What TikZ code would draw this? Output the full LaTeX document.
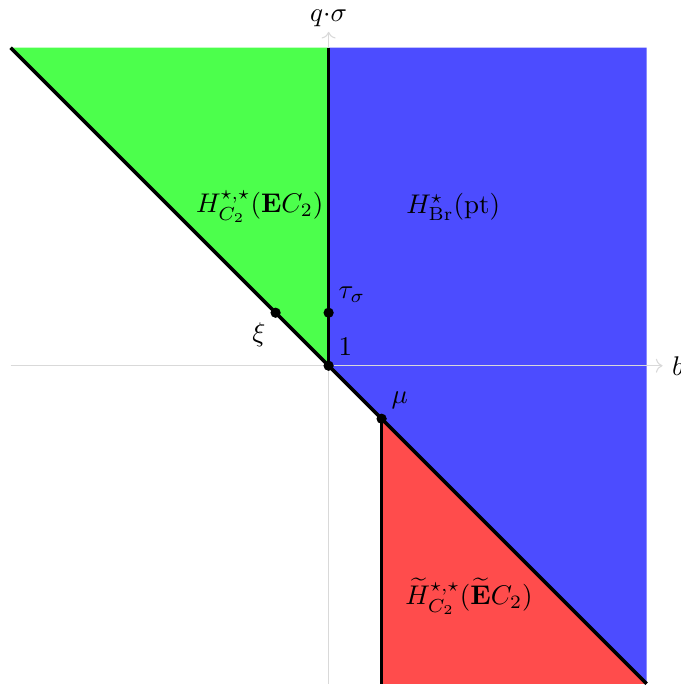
\documentclass[tikz,border=0pt]{standalone}
\usepackage{amsmath, amssymb}
\usetikzlibrary{arrows.meta, positioning}
\tikzset{
  axisline/.style={draw=gray!30, thin, ->},
  wall/.style={draw=black, line width=1.3pt},
  dot/.style={circle, fill=black, inner sep=0pt, minimum size=3.8pt}
}
\newcommand{\Etil}{\widetilde{\mathbf{E}}}

\begin{document}
\begin{tikzpicture}[thick, scale=0.69]
  \useasboundingbox (-6.2,-6.08) rectangle (6.64,6.9);
  % corners
  \coordinate (o) at (0,0);
  \coordinate (tl) at (-6,6);
  \coordinate (tm) at (0,6);
  \coordinate (tr) at (6,6);
  \coordinate (br) at (6,-6);
  \coordinate (bm) at (1,-6);
  \coordinate (m) at (1,-1);
  % regions
  \fill[green!70] (tl) -- (tm) -- (o) -- cycle;
  \fill[blue!70] (tm) -- (tr) -- (br) -- (m) -- (o) -- cycle;
  \fill[red!70] (m) -- (bm) -- (br) -- cycle;
  % axes
  \coordinate (xl) at (-6,0);
  \coordinate (xr) at (6.3,0);
  \coordinate (yb) at (0,-6);
  \coordinate (yt) at (0,6.3);
  \draw[axisline] (xl) -- (xr) node[right, black]{$b$};
  \draw[axisline] (yb) -- (yt) node[above, black, yshift=-1.5pt]{$q{\cdot}\sigma$};
  % boundaries
  \draw[wall] (tl) -- (br);
  \draw[wall] (o) -- (tm);
  \draw[wall] (m) -- (bm);
  % generators
  \node[dot] (one) at (o) {};
  \node[dot] (tau) at (0,1) {};
  \node[dot] (xi) at (-1,1) {};
  \node[dot] (mu) at (m) {};
  \node[above right] at (one) {$1$};
  \node[above right] at (tau) {$\tau_\sigma$};
  \node[below left] at (xi) {$\xi$};
  \node[above right] at (mu) {$\mu$};
  % labels
  \node (green) at (-1.3,3) {$H^{\star,\star}_{C_2}(\mathbf{E}C_2)$};
  \node (blue) at (2.35,3) {$H^{\star}_{\mathrm{Br}}(\mathrm{pt})$};
  \node (red) at (2.65,-4.35) {$\widetilde{H}^{\star,\star}_{C_2}(\Etil C_2)$};
\end{tikzpicture}
\end{document}
